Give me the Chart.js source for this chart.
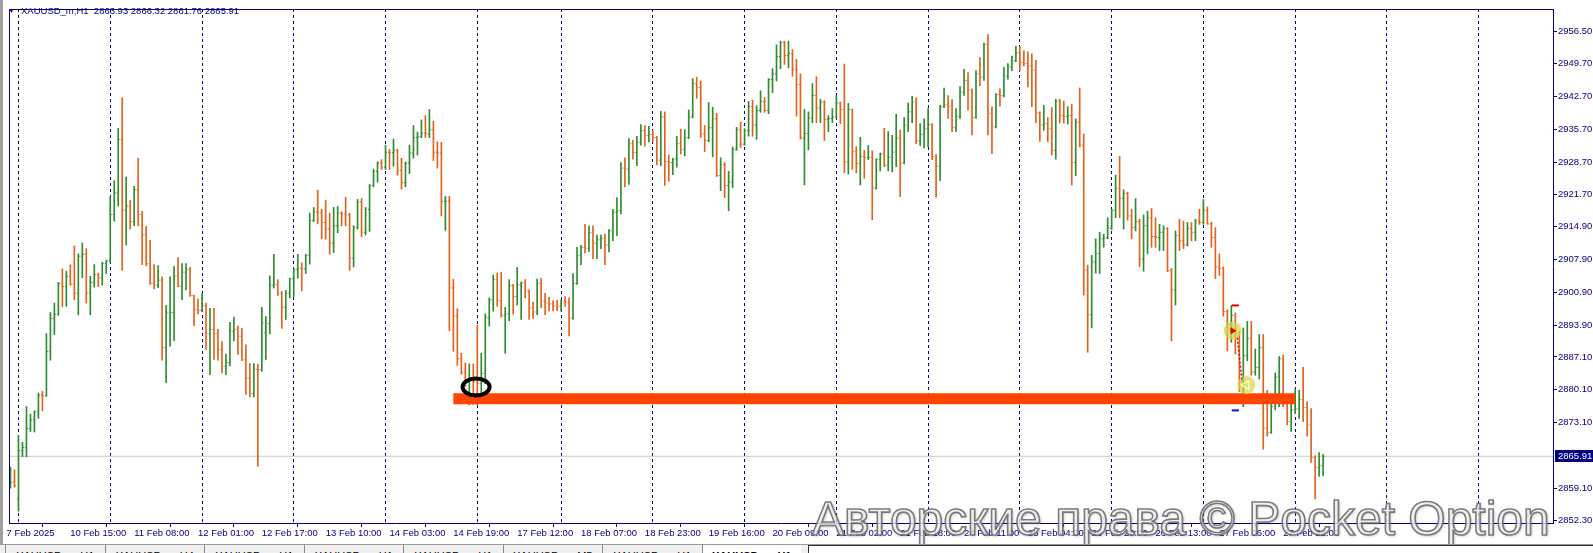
<!DOCTYPE html>
<html>
<head>
<meta charset="utf-8">
<script src="https://cdn.jsdelivr.net/npm/chart.js@4.4.1/dist/chart.umd.min.js"></script>
<style>
html,body{margin:0;padding:0;background:#fff;overflow:hidden;}
#wrap{position:relative;width:1593px;height:553px;overflow:hidden;background:#fff;}
#c{position:absolute;left:0;top:0;}
#frame{position:absolute;left:0;top:0;width:3px;height:544px;background:#a0a0a0;}
#title{position:absolute;left:8px;top:5px;font-family:"Liberation Sans",sans-serif;font-size:9.5px;color:#000080;white-space:pre;line-height:12px;}
#title .tri{font-size:7px;display:inline-block;width:13px;vertical-align:top;line-height:12px;}
#wm{position:absolute;left:812px;top:489px;font-family:"Liberation Sans",sans-serif;font-size:48px;line-height:60px;color:rgba(255,255,255,0.72);-webkit-text-stroke:1.6px rgba(110,110,110,0.9);text-shadow:1px 1px 3px rgba(0,0,0,0.3);white-space:pre;}
#tabs{position:absolute;left:0;top:544px;width:1593px;height:9px;background:#f0f0f0;border-top:1px solid #9a9a9a;overflow:hidden;}
.tab{position:absolute;top:0;height:9px;font-family:"Liberation Sans",sans-serif;font-size:11px;color:#000;line-height:22px;text-align:center;border-left:1px solid #8a8a8a;overflow:hidden;white-space:pre;}
.tab.active{background:#fff;font-weight:bold;}
#box{position:absolute;top:0;left:808px;width:785px;height:9px;background:#fff;border-left:1px solid #333;border-top:1px solid #333;}
</style>
</head>
<body>
<div id="wrap">
  <canvas id="c" width="1593" height="553"></canvas>
  <div id="frame"></div>
  <div id="title"></div>
  <div id="wm">Авторские права © Pocket Option</div>
  <div id="tabs"></div>
</div>
<script>
// ---------------- data ----------------
const symbolName = 'XAUUSD_m,H1';
const opens = [
2859.6,2860.5,2856.8,2867.1,2867.8,2871.8,2873.7,2875.4,2879.1,2878.8,
2888.3,2895.3,2896.2,2902.8,2902.1,2904.3,2902.6,2900.7,2908.6,2909.0,
2900.8,2903.0,2904.7,2904.0,2907.1,2907.6,2917.5,2922.1,2933.5,2918.4,
2919.3,2916.0,2922.8,2917.5,2913.2,2907.0,2902.8,2902.4,2903.5,2889.1,
2896.5,2896.6,2904.4,2902.2,2905.2,2905.7,2900.2,2897.2,2897.0,2898.0,
2892.0,2893.0,2892.1,2888.7,2885.1,2885.9,2892.6,2893.0,2891.5,2886.5,
2882.6,2879.3,2884.5,2884.4,2892.3,2894.2,2902.4,2902.5,2900.7,2897.7,
2900.7,2903.8,2905.8,2906.0,2905.9,2908.8,2916.2,2918.1,2917.9,2915.8,
2914.4,2911.4,2915.1,2917.8,2917.6,2917.4,2908.2,2914.8,2920.2,2913.7,
2918.6,2923.7,2926.7,2928.5,2927.6,2930.8,2930.7,2931.2,2926.9,2924.3,
2928.5,2930.6,2933.9,2934.1,2934.9,2934.7,2935.6,2930.8,2930.6,2920.3,
2920.4,2901.8,2895.8,2886.7,2883.7,2881.8,2882.3,2881.8,2881.4,2883.6,
2895.5,2899.3,2903.6,2899.1,2896.0,2896.3,2902.3,2900.0,2902.5,2902.9,
2901.2,2897.6,2896.7,2902.8,2899.0,2898.6,2898.4,2898.0,2897.9,2899.0,
2898.8,2895.4,2902.8,2908.8,2910.5,2910.3,2913.6,2911.4,2912.1,2912.4,
2911.0,2914.0,2918.0,2918.3,2927.4,2927.2,2932.6,2930.7,2932.9,2935.4,
2934.4,2934.6,2933.9,2929.1,2938.3,2928.8,2928.6,2929.3,2932.6,2931.4,
2933.9,2938.3,2945.4,2944.6,2934.7,2933.3,2936.0,2937.9,2925.8,2928.1,
2923.7,2924.4,2931.4,2935.6,2932.5,2935.4,2940.5,2936.6,2939.7,2941.6,
2939.7,2946.3,2947.5,2951.2,2954.2,2951.4,2951.8,2948.5,2945.2,2933.8,
2934.8,2938.1,2942.9,2940.2,2941.5,2937.8,2938.0,2938.3,2941.3,2939.9,
2928.7,2939.9,2931.0,2928.4,2929.9,2929.6,2929.7,2923.1,2929.2,2930.4,
2928.0,2929.7,2930.8,2933.8,2928.5,2936.6,2939.4,2941.5,2933.2,2934.6,
2935.8,2936.7,2929.8,2927.8,2940.5,2940.9,2940.6,2936.1,2938.4,2943.6,
2946.1,2944.1,2938.2,2947.5,2946.8,2953.8,2939.1,2936.2,2943.1,2942.9,
2947.0,2949.0,2950.3,2952.0,2949.9,2949.7,2949.2,2948.3,2939.2,2936.6,
2936.8,2935.8,2931.2,2941.7,2938.6,2938.4,2938.6,2928.6,2937.2,2932.3,
2905.6,2896.1,2907.4,2909.2,2912.3,2912.5,2914.6,2918.4,2923.1,2921.0,
2922.0,2917.2,2914.7,2916.0,2908.0,2915.1,2916.8,2912.8,2912.6,2913.7,
2914.5,2905.6,2901.4,2913.0,2911.9,2911.0,2914.5,2913.7,2916.1,2915.8,
2918.4,2915.5,2912.6,2906.3,2906.0,2896.8,2894.0,2896.0,2892.3,2881.0,
2887.4,2891.0,2883.9,2884.9,2889.1,2871.9,2871.0,2876.5,2882.8,2886.7,
2877.6,2873.3,2875.8,2876.0,2878.0,2876.3,2872.6,2865.6,2863.5,2863.93];
const highs = [
2863.6,2863.0,2870.4,2868.9,2876.5,2874.9,2875.6,2879.4,2879.8,2892.1,
2896.6,2898.6,2903.0,2905.9,2905.4,2906.8,2910.8,2909.1,2911.4,2910.2,
2904.3,2906.8,2905.0,2907.3,2907.7,2921.3,2924.7,2935.9,2942.4,2925.5,
2920.5,2923.5,2929.5,2918.2,2915.0,2912.0,2906.8,2906.6,2904.2,2898.1,
2904.2,2906.4,2908.3,2907.0,2907.0,2906.2,2900.3,2899.5,2900.6,2898.6,
2897.5,2897.5,2893.0,2890.4,2887.7,2894.5,2895.6,2893.7,2893.2,2889.7,
2885.7,2885.7,2885.6,2897.7,2895.7,2904.4,2909.0,2903.6,2901.1,2901.3,
2903.9,2906.0,2909.0,2907.2,2909.0,2917.8,2919.0,2922.7,2918.6,2920.5,
2917.8,2919.0,2919.2,2918.1,2921.2,2917.8,2915.1,2920.7,2920.9,2919.0,
2923.9,2927.2,2928.7,2929.2,2932.3,2931.4,2933.6,2931.4,2929.5,2928.7,
2932.3,2936.5,2935.1,2937.7,2938.6,2939.9,2937.4,2933.0,2932.9,2921.4,
2921.4,2903.7,2897.4,2887.9,2885.8,2885.6,2885.6,2893.9,2887.9,2896.3,
2899.7,2904.6,2905.0,2905.2,2897.7,2903.6,2902.6,2906.2,2903.1,2903.6,
2901.4,2898.8,2903.7,2903.9,2900.7,2899.8,2899.1,2899.2,2899.3,2900.0,
2899.7,2904.9,2910.5,2910.9,2915.4,2915.1,2915.1,2913.1,2913.1,2913.3,
2914.3,2918.6,2921.1,2928.6,2929.6,2933.7,2933.3,2934.2,2936.7,2936.5,
2936.3,2935.4,2934.2,2939.5,2939.4,2930.2,2929.5,2934.2,2935.7,2935.6,
2939.8,2946.5,2946.8,2946.0,2936.5,2941.4,2940.4,2939.1,2929.6,2928.6,
2926.7,2931.9,2936.1,2937.2,2935.8,2941.6,2941.9,2940.7,2943.9,2942.5,
2946.5,2948.6,2953.7,2954.5,2954.5,2954.5,2952.7,2950.6,2947.5,2939.9,
2939.4,2945.4,2946.9,2942.1,2941.8,2938.6,2940.1,2942.9,2941.5,2949.6,
2941.2,2940.0,2932.0,2934.0,2931.2,2932.2,2931.1,2929.4,2930.6,2935.9,
2935.2,2934.4,2938.9,2935.5,2938.2,2941.3,2942.7,2942.4,2936.9,2937.9,
2940.1,2936.9,2930.3,2940.8,2944.5,2942.9,2942.0,2940.1,2944.8,2948.5,
2947.8,2944.3,2948.2,2951.0,2954.1,2955.9,2940.5,2943.3,2944.3,2948.9,
2949.7,2951.3,2953.4,2953.4,2952.4,2952.2,2951.8,2950.4,2939.4,2940.8,
2938.2,2940.3,2942.1,2942.1,2941.7,2940.5,2941.0,2937.9,2944.5,2934.7,
2906.7,2908.8,2912.3,2913.7,2913.3,2916.8,2918.6,2925.9,2929.9,2922.8,
2922.3,2918.6,2920.9,2916.5,2917.4,2918.2,2918.8,2916.8,2915.4,2915.1,
2914.7,2906.0,2914.0,2916.5,2916.1,2915.8,2915.8,2916.5,2918.6,2920.7,
2919.1,2915.9,2914.7,2909.1,2906.3,2897.2,2898.1,2896.5,2892.5,2893.3,
2894.7,2894.7,2888.8,2891.9,2891.9,2880.0,2877.9,2883.7,2887.2,2887.5,
2878.0,2877.9,2880.3,2880.0,2884.9,2877.6,2876.1,2866.0,2866.7,2866.32];
const lows = [
2859.1,2859.3,2854.2,2865.8,2865.8,2871.2,2871.1,2874.0,2875.6,2878.7,
2886.4,2891.9,2896.0,2897.8,2897.9,2902.4,2899.3,2896.1,2904.0,2898.6,
2896.1,2902.0,2902.1,2902.4,2904.9,2907.3,2916.1,2919.3,2905.6,2911.0,
2914.4,2915.1,2915.1,2906.8,2906.6,2902.6,2901.6,2901.9,2886.4,2881.6,
2889.4,2890.6,2902.1,2899.3,2901.4,2900.0,2893.8,2896.3,2896.8,2888.7,
2883.3,2886.6,2886.4,2883.7,2883.3,2885.2,2890.5,2887.7,2886.3,2879.1,
2878.6,2878.6,2863.8,2884.0,2886.6,2892.0,2901.8,2900.2,2893.2,2895.1,
2899.7,2900.0,2903.9,2901.2,2904.9,2906.9,2916.0,2915.5,2912.3,2912.2,
2909.0,2909.4,2913.6,2915.1,2915.1,2905.6,2906.3,2914.4,2912.7,2913.1,
2913.9,2923.4,2924.4,2927.1,2927.1,2927.1,2927.8,2925.9,2922.9,2923.4,
2926.2,2929.5,2930.2,2933.9,2933.9,2933.9,2929.0,2927.4,2917.2,2914.1,
2892.7,2888.3,2885.3,2883.4,2880.8,2876.9,2876.9,2876.9,2878.6,2881.4,
2893.7,2896.9,2897.9,2895.6,2887.9,2894.8,2896.2,2898.2,2895.1,2899.7,
2895.1,2895.3,2896.1,2897.6,2896.1,2896.9,2896.9,2897.0,2896.9,2897.9,
2891.6,2895.1,2902.6,2906.8,2909.3,2909.6,2908.1,2908.1,2910.2,2906.8,
2909.5,2911.9,2913.0,2917.6,2923.4,2923.9,2929.3,2927.9,2932.3,2932.1,
2933.0,2933.0,2928.1,2927.9,2923.7,2924.6,2926.0,2927.6,2930.4,2930.0,
2933.7,2938.1,2942.3,2933.9,2930.9,2933.0,2929.8,2925.6,2922.6,2921.1,
2918.3,2923.2,2931.2,2931.8,2932.3,2934.2,2934.2,2933.5,2939.3,2939.3,
2939.0,2943.5,2946.0,2948.6,2949.5,2948.8,2947.0,2938.5,2933.6,2923.8,
2931.3,2937.1,2937.1,2937.1,2933.3,2935.2,2937.1,2938.0,2936.9,2926.4,
2926.1,2927.1,2926.4,2923.8,2925.2,2929.2,2916.4,2922.9,2926.8,2927.7,
2926.8,2926.6,2927.7,2921.3,2928.3,2935.2,2937.1,2932.6,2932.2,2931.7,
2931.9,2929.2,2921.2,2924.7,2940.3,2938.0,2935.2,2935.2,2938.0,2942.9,
2939.8,2934.5,2938.0,2945.0,2946.1,2934.5,2930.5,2936.0,2940.6,2942.6,
2946.4,2948.2,2950.1,2948.2,2949.2,2944.7,2940.5,2937.1,2933.1,2935.5,
2933.0,2930.2,2929.3,2937.0,2937.0,2936.8,2923.8,2925.8,2931.9,2900.3,
2888.1,2893.3,2905.0,2904.9,2910.5,2912.3,2914.3,2916.8,2916.8,2914.4,
2916.3,2912.3,2914.0,2906.4,2905.4,2909.1,2910.5,2910.5,2909.8,2909.8,
2905.3,2890.5,2898.2,2909.8,2910.2,2910.8,2911.9,2911.9,2915.4,2915.4,
2915.4,2910.5,2903.8,2904.5,2895.8,2888.4,2890.2,2887.7,2879.7,2876.5,
2886.3,2883.2,2883.2,2882.4,2867.4,2870.2,2870.8,2875.8,2876.5,2876.5,
2872.6,2871.2,2875.0,2874.0,2873.3,2870.2,2864.6,2856.8,2861.6,2861.76];
const closes = [
2860.3,2859.6,2867.1,2867.8,2871.8,2873.7,2875.4,2878.9,2878.8,2888.3,
2895.3,2896.2,2902.8,2902.1,2904.3,2902.6,2900.7,2908.6,2909.0,2900.8,
2903.0,2904.7,2904.0,2907.1,2907.6,2917.5,2922.1,2933.5,2918.4,2919.3,
2916.0,2922.8,2917.5,2913.2,2907.0,2902.8,2902.4,2903.5,2889.1,2896.5,
2896.6,2904.4,2902.2,2905.2,2905.7,2900.2,2897.2,2897.0,2898.0,2892.0,
2893.0,2892.1,2888.7,2885.1,2885.9,2892.6,2893.0,2891.5,2886.5,2882.6,
2879.3,2884.5,2884.4,2894.4,2894.2,2902.4,2902.5,2900.7,2897.7,2900.7,
2903.8,2905.8,2906.0,2905.9,2908.8,2916.2,2918.1,2917.9,2915.8,2914.4,
2911.4,2915.1,2917.8,2917.6,2917.4,2908.2,2914.8,2920.2,2913.7,2918.6,
2923.7,2926.7,2928.5,2927.6,2930.8,2930.7,2931.2,2926.9,2924.3,2928.5,
2930.6,2933.9,2934.1,2934.9,2934.7,2935.6,2930.8,2930.6,2920.3,2920.4,
2901.8,2895.8,2886.7,2883.7,2881.8,2882.3,2881.8,2881.4,2883.6,2895.5,
2899.3,2903.6,2899.1,2896.0,2896.3,2902.3,2900.0,2902.5,2902.9,2901.2,
2897.6,2896.7,2902.8,2899.0,2898.6,2898.4,2898.0,2897.9,2899.0,2898.8,
2895.4,2902.8,2908.8,2910.5,2910.3,2913.6,2911.4,2912.1,2912.4,2911.0,
2914.0,2918.0,2918.3,2927.4,2927.2,2932.6,2930.7,2932.9,2935.4,2934.4,
2934.6,2933.9,2929.1,2938.3,2928.8,2928.6,2929.3,2932.6,2931.4,2933.9,
2938.3,2945.4,2944.6,2934.7,2933.3,2936.0,2937.9,2925.8,2928.1,2923.7,
2924.4,2931.4,2935.6,2932.5,2935.4,2940.5,2936.6,2939.7,2941.6,2939.7,
2946.3,2947.5,2951.2,2954.2,2951.4,2951.9,2948.5,2945.2,2933.8,2934.8,
2938.1,2942.9,2940.2,2941.5,2937.8,2938.0,2938.3,2941.3,2939.9,2928.7,
2939.9,2931.0,2928.4,2929.9,2929.6,2929.7,2923.1,2929.2,2930.4,2928.0,
2929.7,2930.8,2933.8,2928.5,2936.6,2939.4,2941.5,2933.2,2934.6,2935.8,
2936.7,2929.8,2927.8,2940.5,2940.9,2940.6,2936.1,2938.4,2943.6,2946.1,
2944.1,2938.2,2947.5,2946.8,2953.8,2939.1,2936.2,2943.1,2942.9,2947.0,
2949.0,2950.3,2952.0,2949.9,2949.7,2949.2,2948.3,2939.2,2936.6,2937.0,
2935.8,2931.2,2941.7,2938.6,2938.4,2938.6,2928.6,2937.2,2932.3,2905.6,
2896.1,2907.4,2909.2,2912.3,2912.5,2914.6,2918.4,2923.1,2921.0,2922.0,
2917.2,2914.7,2916.0,2908.0,2915.1,2916.8,2912.8,2912.6,2913.7,2914.5,
2905.6,2901.4,2913.0,2911.9,2911.0,2914.5,2913.7,2916.1,2915.8,2918.4,
2915.5,2912.6,2906.3,2906.0,2896.8,2894.0,2896.0,2892.3,2881.0,2887.4,
2891.0,2883.9,2884.9,2889.1,2871.9,2871.0,2876.5,2882.8,2886.7,2877.6,
2873.3,2875.8,2876.0,2878.0,2876.3,2872.6,2865.6,2863.5,2863.9,2865.91];

// time-axis labels (one every 16 bars) and day separators (first bar of each day)
const xTickLabels = ['7 Feb 2025','10 Feb 15:00','11 Feb 08:00','12 Feb 01:00','12 Feb 17:00','13 Feb 10:00',
  '14 Feb 03:00','14 Feb 19:00','17 Feb 12:00','18 Feb 07:00','18 Feb 23:00','19 Feb 16:00','20 Feb 09:00',
  '21 Feb 02:00','21 Feb 18:00','24 Feb 11:00','25 Feb 04:00','25 Feb 20:00','26 Feb 13:00','27 Feb 06:00','27 Feb 22:00'];
const xTickBars = [0,16,32,48,64,80,96,112,128,144,160,176,192,208,224,240,256,272,288,304,320];
const daySeparatorBars = [2,25,48,71,94,117,138,161,184,207,230,253,276,299,322,345,368];
const yTickValues = [2956.50,2949.70,2942.70,2935.70,2928.70,2921.70,2914.90,2907.90,2900.90,2893.90,2887.10,2880.10,2873.10,2859.10,2852.30];

// drawn objects (in bar index / price units)
const levelBars = [111, 322];
const levelPrices = [2878.2, 2878.2];
const ellipseMark = [116.7, 2880.7];
const tradeCircleBars = [306.3, 309.75];
const tradeCirclePrices = [2892.7, 2881.1];
const tradePathBars = [307.5, 308.7];
const tradePathPrices = [2891.2, 2881.8];
const stopBars = [306.1, 307.9];
const stopPrices = [2898.1, 2898.1];
const targetPrices = [2875.7, 2875.7];

const tabNames = ['XAUUSD_m,H1','XAUUSD_m,H4','XAUUSD_m,H1','XAUUSD_m,H1','XAUUSD_m,H1','XAUUSD_m,M5','XAUUSD_m,H1','XAUUSD_m,H1'];

// ---------------- style ----------------
const NAVY = '#000080';
const UP = '#2E8B30';
const DOWN = '#E2621C';
const FONT = {family:'"Liberation Sans", Arial, sans-serif', size:9.5};
const X_MIN = -0.375, X_MAX = 386.625;   // 4 px per bar
const Y_MIN = 2851.67, Y_MAX = 2961.35;

const n = closes.length;
const barColors = closes.map((c,i)=> c >= opens[i] ? UP : DOWN);
const idx = closes.map((_,i)=>i);

// title
const last = n-1;
document.getElementById('title').innerHTML =
  '<span class="tri">&#9660;</span>' + symbolName + '  ' +
  [opens[last],highs[last],lows[last],closes[last]].map(v=>v.toFixed(2)).join(' ');

// tabs
(function(){
  const t = document.getElementById('tabs');
  const w = 99.5;
  tabNames.forEach((name,k)=>{
    const d = document.createElement('div');
    d.className = 'tab' + (k===tabNames.length-1 ? ' active' : '');
    d.style.left = (5 + k*w) + 'px';
    d.style.width = (w-1) + 'px';
    d.textContent = name;
    t.appendChild(d);
  });
  const b = document.createElement('div'); b.id='box'; t.appendChild(b);
})();

const mt4Plugin = {
  id:'mt4',
  afterDatasetsDraw(chart){
    const {ctx, scales:{x,y}} = chart;
    ctx.save();
    ctx.beginPath();
    ctx.ellipse(x.getPixelForValue(ellipseMark[0]), y.getPixelForValue(ellipseMark[1]), 13.5, 8.5, 0, 0, Math.PI*2);
    ctx.lineWidth = 4; ctx.strokeStyle = '#000'; ctx.stroke();
    ctx.restore();
  },
  afterDraw(chart){
    const {ctx, chartArea:a, scales:{y}} = chart;
    ctx.save();
    ctx.strokeStyle = NAVY; ctx.lineWidth = 1;
    ctx.beginPath();
    ctx.moveTo(a.left, a.top+0.5); ctx.lineTo(a.right, a.top+0.5);
    ctx.moveTo(a.left+0.5, a.top); ctx.lineTo(a.left+0.5, a.bottom);
    ctx.stroke();
    const lc = closes[last];
    const py = Math.round(y.getPixelForValue(lc));
    ctx.fillStyle = NAVY; ctx.fillRect(a.right+2, py-6, 40, 12);
    ctx.fillStyle = '#fff'; ctx.font = '9.5px "Liberation Sans", Arial, sans-serif';
    ctx.textBaseline = 'middle'; ctx.textAlign = 'left';
    ctx.fillText(lc.toFixed(2), a.right+5, py+0.5);
    ctx.restore();
  }
};

new Chart(document.getElementById('c'), {
  type:'scatter',
  data:{
    datasets:[
      { // bid line
        type:'line', order:9, data:[{x:X_MIN,y:closes[last]},{x:X_MAX,y:closes[last]}],
        borderColor:'#C8C8C8', borderWidth:1, pointRadius:0
      },
      { // high-low ranges
        type:'bar', order:8, data: idx.map(i=>({x:i, y:[lows[i], highs[i]]})),
        backgroundColor: barColors, borderWidth:0, barThickness:1
      },
      { // open ticks
        type:'scatter', order:7, data: idx.map(i=>({x:i-0.25, y:opens[i]})),
        pointStyle:'line', pointRadius:0.5, pointBorderWidth:1, pointBorderColor:barColors, pointBackgroundColor:barColors
      },
      { // close ticks
        type:'scatter', order:7, data: idx.map(i=>({x:i+0.25, y:closes[i]})),
        pointStyle:'line', pointRadius:0.5, pointBorderWidth:1, pointBorderColor:barColors, pointBackgroundColor:barColors
      },
      { // horizontal level
        type:'line', order:5, data: levelBars.map((b,k)=>({x:b, y:levelPrices[k]})),
        borderColor:'#FF4500', borderWidth:11, borderCapStyle:'butt', pointRadius:0
      },
      { // stop marker
        type:'line', order:4, data: stopBars.map((b,k)=>({x:b, y:stopPrices[k]})),
        borderColor:'#E00000', borderWidth:2, pointRadius:0
      },
      { // target marker
        type:'line', order:4, data: stopBars.map((b,k)=>({x:b, y:targetPrices[k]})),
        borderColor:'#1010D0', borderWidth:2, pointRadius:0
      },
      { // trade highlight circles
        type:'scatter', order:3, data: tradeCircleBars.map((b,k)=>({x:b, y:tradeCirclePrices[k]})),
        pointStyle:'circle', pointRadius:9, pointBorderWidth:0, pointBackgroundColor:'rgba(214,216,70,0.72)'
      },
      { // trade path
        type:'line', order:2, data: tradePathBars.map((b,k)=>({x:b, y:tradePathPrices[k]})),
        borderColor:'#E00000', borderWidth:1.5, borderDash:[2,2], pointRadius:0
      },
      { // entry arrow
        type:'scatter', order:1, data:[{x:tradeCircleBars[0], y:tradeCirclePrices[0]}],
        pointStyle:'triangle', rotation:90, pointRadius:4, pointBorderWidth:0, pointBackgroundColor:'#E00000'
      },
      { // exit arrow
        type:'scatter', order:1, data:[{x:tradeCircleBars[1], y:tradeCirclePrices[1]}],
        pointStyle:'triangle', rotation:-90, pointRadius:5, pointBorderWidth:1.2, pointBorderColor:'#FFFFE0', pointBackgroundColor:'rgba(0,0,0,0)'
      }
    ]
  },
  options:{
    responsive:false, animation:false, devicePixelRatio:1, events:[],
    layout:{padding:{left:5, top:2, right:0, bottom:0}},
    plugins:{legend:{display:false}, tooltip:{enabled:false}},
    scales:{
      x:{
        type:'linear', position:'bottom', min:X_MIN, max:X_MAX, offset:false,
        afterBuildTicks:s=>{ s.ticks = xTickBars.map(v=>({value:v})); },
        afterFit:s=>{ s.height = 30; s.paddingLeft = 0; s.paddingRight = 0; },
        ticks:{ autoSkip:false, maxRotation:0, align:'start', padding:1, labelOffset:-4, color:NAVY, font:FONT,
          callback:(v,i)=> xTickLabels[i] },
        grid:{ drawOnChartArea:false, drawTicks:true, tickLength:4, color:NAVY, tickColor:NAVY },
        border:{ display:true, color:NAVY, width:1 }
      },
      xg:{
        type:'linear', position:'bottom', min:X_MIN, max:X_MAX, offset:false,
        afterBuildTicks:s=>{ s.ticks = daySeparatorBars.map(v=>({value:v})); },
        afterFit:s=>{ s.height = 0; s.paddingLeft = 0; s.paddingRight = 0; },
        ticks:{ display:false },
        grid:{ drawOnChartArea:true, drawTicks:false, color:NAVY, lineWidth:1 },
        border:{ display:false, dash:[3,3] }
      },
      y:{
        type:'linear', position:'right', min:Y_MIN, max:Y_MAX, beginAtZero:false,
        afterBuildTicks:s=>{ s.ticks = yTickValues.map(v=>({value:v})); },
        afterFit:s=>{ s.width = 40; s.paddingTop = 0; s.paddingBottom = 0; },
        ticks:{ autoSkip:false, padding:1, color:NAVY, font:FONT, callback:v=>v.toFixed(2) },
        grid:{ drawOnChartArea:false, drawTicks:true, tickLength:4, color:NAVY, tickColor:NAVY },
        border:{ display:true, color:NAVY, width:1 }
      }
    }
  },
  plugins:[mt4Plugin]
});
</script>
</body>
</html>
